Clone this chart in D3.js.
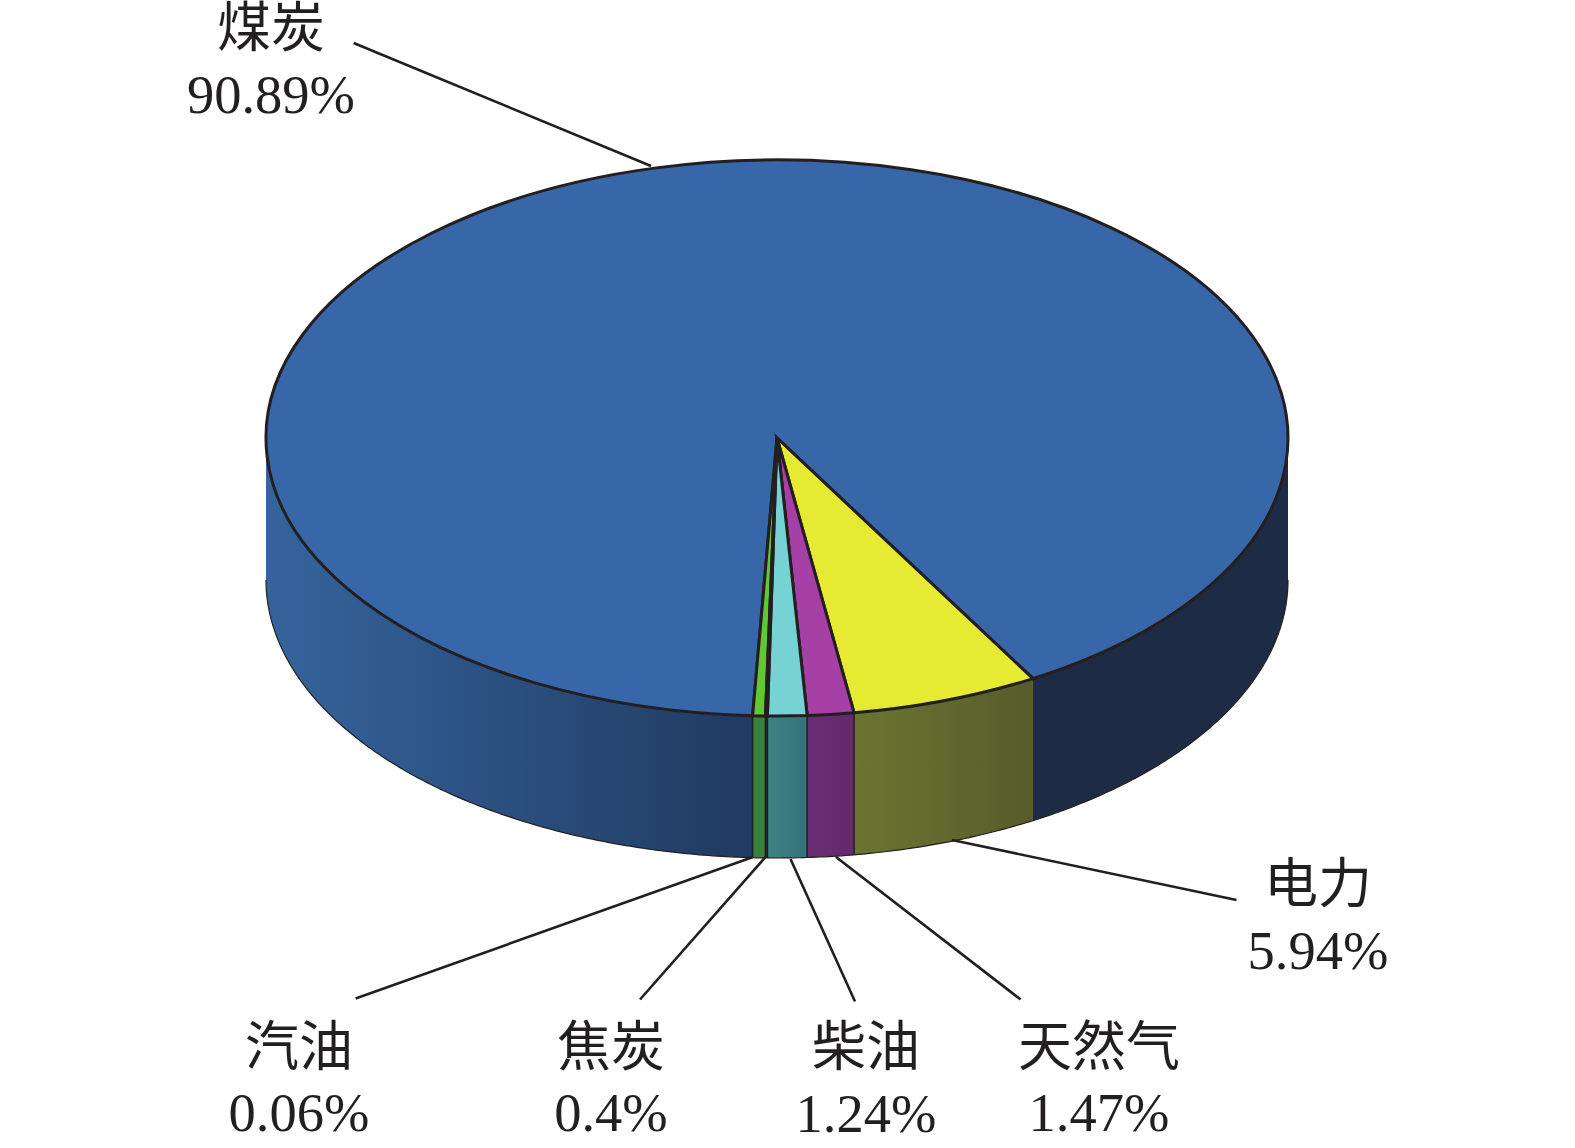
<!DOCTYPE html>
<html lang="zh">
<head>
<meta charset="utf-8">
<title>能源消费占比</title>
<script src="https://cdn.jsdelivr.net/npm/d3@7/dist/d3.min.js"></script>
<style>
html,body{margin:0;padding:0;background:#fff}
svg{display:block}
text{font-family:"Liberation Serif","Noto Sans CJK SC",serif;fill:#231f20;text-anchor:middle}
</style>
</head>
<body>
<svg id="chart" width="1575" height="1148"></svg>
<script>
// Data, clockwise from the electricity slice
const categories = ["电力", "天然气", "柴油", "汽油", "焦炭", "煤炭"];
const shares = [5.94, 1.47, 1.24, 0.06, 0.4, 90.89];
const valueLabels = ["5.94%", "1.47%", "1.24%", "0.06%", "0.4%", "90.89%"];

// Styles
const topColors = ["#e6ea32", "#a640a5", "#76d2d3", "#3a3a3a", "#62c832", "#3767a8"];
const sideColors = [
  ["#6b7530", "#565c2b"],
  ["#682c72", "#64296e"],
  ["#3c8283", "#337379"],
  ["#2a2a2a", "#2a2a2a"],
  ["#38823c", "#38803c"],
  ["#35649d", "#203a60"]
];
const coalRightSide = "#1d2c44";
const ink = "#231f20";

// Layout
const W = 1575, H = 1148;
const cx = 777, cy = 438, rx = 511, ry = 278, depth = 142;
const startDeg = 149.94;
const labelLayout = {
  "煤炭": {x: 271, nameY: 47, valueY: 113, leader: [[353.6, 43], [651, 166]]},
  "电力": {x: 1318, nameY: 903, valueY: 969, leader: [[1236.5, 900], [952, 840]]},
  "汽油": {x: 299, nameY: 1066, valueY: 1131, leader: [[355.6, 998.5], [753, 857]]},
  "焦炭": {x: 611, nameY: 1066, valueY: 1131, leader: [[640, 999.5], [765.5, 857]]},
  "柴油": {x: 866, nameY: 1066, valueY: 1132, leader: [[855, 1001.5], [790.5, 859]]},
  "天然气": {x: 1099, nameY: 1066, valueY: 1131, leader: [[1020.6, 999.5], [836, 857]]}
};

const rad = d => d * Math.PI / 180;
const svg = d3.select("#chart");
const defs = svg.append("defs");

const pie = d3.pie().sort(null).value(d => d)
  .startAngle(rad(startDeg)).endAngle(rad(startDeg + 360));
const arcs = pie(shares);

const px = a => cx + rx * Math.sin(a);
const py = a => cy - ry * Math.cos(a);
const line = d3.line();

function rimPoints(a0, a1, dy) {
  const n = Math.max(2, Math.ceil(Math.abs(a1 - a0) / rad(0.5)));
  return d3.range(n + 1).map(i => {
    const a = a0 + (a1 - a0) * i / n;
    return [px(a), py(a) + dy];
  });
}

// Visible (front) angular pieces of each slice's wall
const front = [[rad(90), rad(270)], [rad(450), rad(630)]];
const walls = [];
arcs.forEach((d, i) => {
  front.forEach(([f0, f1]) => {
    const a0 = Math.max(d.startAngle, f0), a1 = Math.min(d.endAngle, f1);
    if (a1 > a0) walls.push({i, a0, a1, right: a0 >= rad(360)});
  });
});

walls.forEach((w, k) => {
  const id = "wall" + k;
  const g = defs.append("linearGradient").attr("id", id)
    .attr("gradientUnits", "userSpaceOnUse")
    .attr("x1", Math.min(px(w.a0), px(w.a1))).attr("x2", Math.max(px(w.a0), px(w.a1)))
    .attr("y1", 0).attr("y2", 0);
  const c = (w.i === 5 && w.right) ? [coalRightSide, coalRightSide] : sideColors[w.i];
  g.append("stop").attr("offset", 0).attr("stop-color", c[0]);
  g.append("stop").attr("offset", 1).attr("stop-color", c[1]);
  w.fill = `url(#${id})`;
});

// Side walls
svg.append("g").selectAll("path").data(walls).join("path")
  .attr("d", w => {
    const upper = rimPoints(w.a0, w.a1, 0);
    const lower = rimPoints(w.a1, w.a0, depth);
    return line(upper.concat(lower)) + "Z";
  })
  .attr("fill", w => w.fill)
  .attr("stroke", "none");

// Lower rim, thin outline
svg.append("g").selectAll("path").data(walls).join("path")
  .attr("d", w => line(rimPoints(w.a0, w.a1, depth)))
  .attr("fill", "none").attr("stroke", ink).attr("stroke-width", 1.2);

// Vertical edges between the small slices
svg.append("g").selectAll("line").data(arcs.slice(0, 5)).join("line")
  .attr("x1", d => px(d.endAngle)).attr("x2", d => px(d.endAngle))
  .attr("y1", d => py(d.endAngle)).attr("y2", d => py(d.endAngle) + depth)
  .attr("stroke", ink).attr("stroke-width", 1.6);

// Top face: a circular pie squashed into the ellipse
const arc = d3.arc().innerRadius(0).outerRadius(rx);
svg.append("g")
  .attr("transform", `translate(${cx},${cy}) scale(1,${ry / rx})`)
  .selectAll("path").data([5, 0, 1, 2, 4, 3].map(i => ({d: arcs[i], i}))).join("path")
  .attr("d", o => arc(o.d))
  .attr("fill", o => topColors[o.i])
  .attr("stroke", ink)
  .attr("stroke-width", 3)
  .attr("stroke-linejoin", "miter")
  .attr("vector-effect", "non-scaling-stroke");

// Leader lines
svg.append("g").selectAll("path").data(categories).join("path")
  .attr("d", c => line(labelLayout[c].leader))
  .attr("fill", "none").attr("stroke", ink).attr("stroke-width", 2.6);

// Labels
const labels = svg.append("g").selectAll("g").data(categories).join("g");
labels.append("text")
  .attr("x", c => labelLayout[c].x).attr("y", c => labelLayout[c].nameY)
  .attr("font-size", 54)
  .text(c => c);
labels.append("text")
  .attr("x", c => labelLayout[c].x).attr("y", c => labelLayout[c].valueY)
  .attr("font-size", 54.5)
  .text((c, i) => valueLabels[i]);
</script>
</body>
</html>
